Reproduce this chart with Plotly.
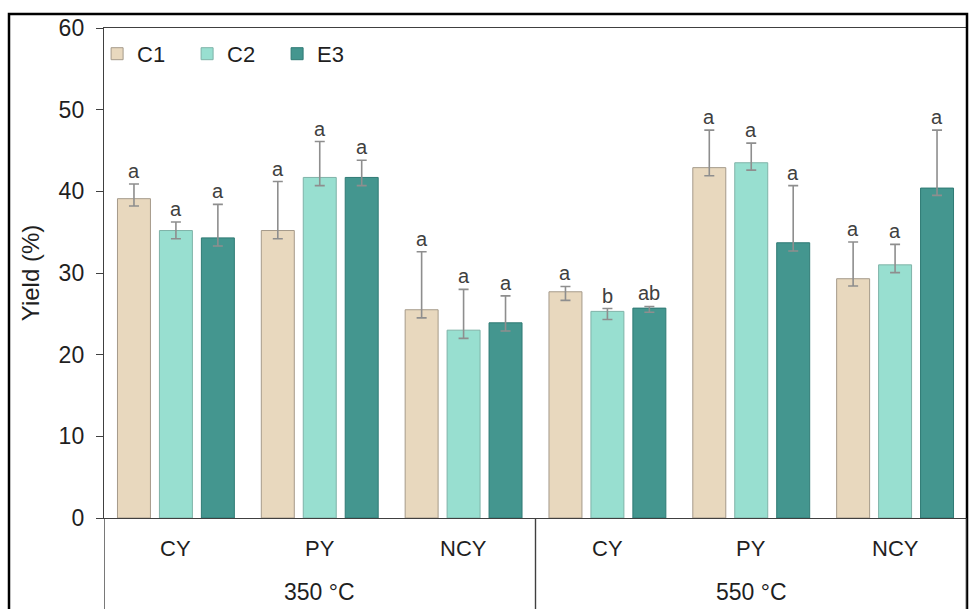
import plotly.graph_objects as go

temps = ["350 °C"] * 3 + ["550 °C"] * 3
cats = ["CY", "PY", "NCY", "CY", "PY", "NCY"]
groups = ["350 °C", "550 °C"]
series = ["C1", "C2", "E3"]

c1_vals = [39.1, 35.2, 25.5, 27.7, 42.9, 29.3]
c1_plus = [1.8, 6.0, 7.1, 0.65, 4.6, 4.5]
c1_minus = [0.9, 1.0, 1.0, 1.05, 1.0, 0.9]
c1_letters = ["a", "a", "a", "a", "a", "a"]

c2_vals = [35.2, 41.7, 23.0, 25.3, 43.5, 31.0]
c2_plus = [1.05, 4.4, 5.0, 0.35, 2.4, 2.5]
c2_minus = [1.0, 1.0, 1.0, 1.0, 0.9, 0.95]
c2_letters = ["a", "a", "a", "b", "a", "a"]

e3_vals = [34.3, 41.7, 23.9, 25.7, 33.7, 40.4]
e3_plus = [4.1, 2.1, 3.3, 0.2, 7.0, 7.1]
e3_minus = [1.0, 1.0, 1.0, 0.5, 1.0, 0.9]
e3_letters = ["a", "a", "a", "ab", "a", "a"]

y_ticks = [0, 10, 20, 30, 40, 50, 60]

fills = ["#E8D8BE", "#98DFD0", "#44968F"]
edges = ["#A59A8A", "#7FB3A8", "#2F7A74"]
FONT = "Arial, Liberation Sans, sans-serif"
TXT = "#1f1f1f"
AX = "#404040"

vals = [c1_vals, c2_vals, e3_vals]
plus = [c1_plus, c2_plus, e3_plus]
minus = [c1_minus, c2_minus, e3_minus]
letters = [c1_letters, c2_letters, e3_letters]

W, H = 971, 609
ML, MR, MT, MB = 104, 4, 28, 91
PW, PH = W - ML - MR, H - MT - MB

BARGAP = 0.125
fig = go.Figure()
for k, name in enumerate(series):
    fig.add_trace(go.Bar(
        name=name,
        x=[temps, cats],
        y=vals[k],
        marker=dict(color=fills[k], line=dict(color=edges[k], width=1)),
        error_y=dict(type="data", symmetric=False, array=plus[k], arrayminus=minus[k],
                     color="#8E8E8E", thickness=1.6, width=5),
    ))

slot = (1 - BARGAP) / 3
annotations = []
for k in range(3):
    for i in range(len(cats)):
        annotations.append(dict(
            x=i + (k - 1) * slot, y=vals[k][i] + plus[k][i],
            xref="x", yref="y", text=letters[k][i], showarrow=False,
            yanchor="bottom", yshift=0,
            font=dict(family=FONT, size=20, color="#404040"),
        ))
# category labels (first level) and group labels (second level)
for i, c in enumerate(cats):
    annotations.append(dict(x=i, y=-30 / PH, xref="x", yref="paper", text=c,
                            showarrow=False, yanchor="middle",
                            font=dict(family=FONT, size=22, color=TXT)))
for g, name in enumerate(groups):
    annotations.append(dict(x=g * 3 + 1, y=-74 / PH, xref="x", yref="paper", text=name,
                            showarrow=False, yanchor="middle",
                            font=dict(family=FONT, size=23, color=TXT)))

shapes = [dict(type="rect", xref="paper", yref="paper",
               x0=-(ML - 9) / PW, x1=1,
               y0=-0.5, y1=1 + (MT - 14) / PH,
               line=dict(color="black", width=2.5), fillcolor="rgba(0,0,0,0)")]
for xd in [-0.5, 2.5, 5.5]:
    shapes.append(dict(type="line", xref="x", yref="paper", x0=xd, x1=xd,
                       y0=0, y1=-0.3, line=dict(color=AX, width=1.4)))

fig.update_layout(
    width=W, height=H,
    margin=dict(l=ML, r=MR, t=MT, b=MB),
    paper_bgcolor="white", plot_bgcolor="white",
    barmode="group", bargap=BARGAP, bargroupgap=0.214,
    font=dict(family=FONT, size=22, color=TXT),
    showlegend=True,
    legend=dict(orientation="h", x=-0.008, y=0.99, xanchor="left", yanchor="top",
                bgcolor="rgba(0,0,0,0)", font=dict(size=22),
                entrywidth=45, entrywidthmode="pixels", traceorder="normal"),
    annotations=annotations,
    shapes=shapes,
)
fig.update_xaxes(
    type="multicategory", showline=True, linecolor=AX, linewidth=1.4,
    mirror=True, ticks="", showgrid=False, showdividers=False,
    showticklabels=False, range=[-0.5, 5.5], automargin=False,
)
fig.update_yaxes(
    range=[0, 60], tickvals=y_ticks, showline=True, linecolor=AX, linewidth=1.4,
    mirror=True, ticks="outside", ticklen=7, tickcolor=AX, showgrid=False, zeroline=False,
    tickfont=dict(size=23, color=TXT), ticklabelstandoff=7, automargin=False,
    title=dict(text="Yield (%)", font=dict(size=24, color=TXT), standoff=12),
)

fig.write_html(
    "out.html",
    config={"displayModeBar": False},
    post_script=("document.documentElement.style.overflow='hidden';"
                 "document.body.style.overflow='hidden';"
                 "document.body.style.margin='0';"),
)
